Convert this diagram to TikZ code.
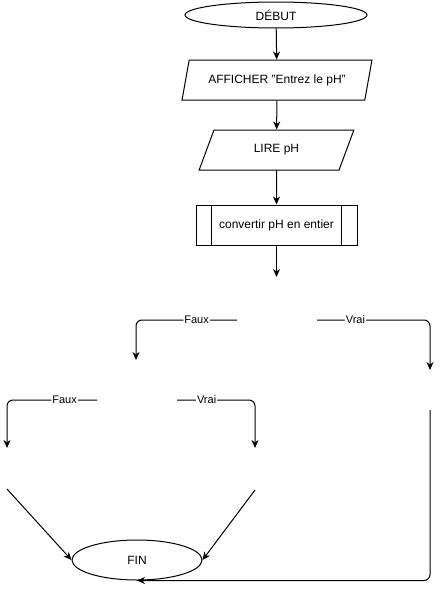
\documentclass[tikz,border=0pt]{standalone}
\usepackage{fontspec}
\setmainfont{Liberation Sans}
\usetikzlibrary{
  shapes.geometric,
  positioning,
  arrows.meta
}
\tikzset{
  >={Stealth[length=8pt,width=7pt,inset=2.5pt]},
  every node/.style={font=\fontsize{12}{14}\selectfont},
  terminal/.style={draw,ellipse,inner sep=0pt},
  io/.style={
    draw,trapezium,trapezium left angle=63.4,trapezium right angle=116.6,
    trapezium stretches=true,minimum height=40pt,inner sep=0pt
  },
  subproc/.style={draw,rectangle,minimum width=161pt,minimum height=40pt},
  lien/.style={->,line width=1pt,rounded corners=6pt},
  etiq/.style={fill=white,inner sep=1pt,font=\fontsize{11}{13}\selectfont}
}

\begin{document}
\begin{tikzpicture}[x=1pt,y=-1pt,line width=1pt]
\useasboundingbox (0,0) rectangle (440,589);
\node[terminal,minimum width=182pt,minimum height=26pt] (debut) at (276,15) {DÉBUT};
\node[io,minimum width=190pt] (affiche) at (277,80) {AFFICHER "Entrez le pH"};
\node[io,minimum width=155pt] (lire) at (276.5,150) {LIRE pH};
\node[subproc] (conv) at (276.5,225) {convertir pH en entier};
\draw ([xshift=16pt]conv.north west) -- ([xshift=16pt]conv.south west);
\draw ([xshift=-16pt]conv.north east) -- ([xshift=-16pt]conv.south east);
\node[terminal,minimum width=130pt,minimum height=40pt] (fin) at (137,560) {FIN};

\coordinate (bas) at (276.5,277);
\coordinate (fauxA) at (237,320);
\coordinate (fauxAbout) at (136,360);
\coordinate (vraiA) at (317,320);
\coordinate (vraiAbout) at (430,370);
\coordinate (fauxB) at (97,400);
\coordinate (fauxBbout) at (7,448);
\coordinate (vraiB) at (177,400);
\coordinate (vraiBbout) at (255,448);
\coordinate (versfinA) at (7,489);
\coordinate (versfinB) at (255,490);
\coordinate (versfinC) at (430,410);

\draw[lien] (debut) -- (affiche);
\draw[lien] (affiche) -- (lire);
\draw[lien] (lire) -- (conv);
\draw[lien] (conv) -- (bas);
\draw[lien] (fauxA) -| node[etiq,pos=0.2] {Faux} (fauxAbout);
\draw[lien] (vraiA) -| node[etiq,pos=0.17] {Vrai} (vraiAbout);
\draw[lien] (fauxB) -| node[etiq,pos=0.18] {Faux} (fauxBbout);
\draw[lien] (vraiB) -| node[etiq,pos=0.19] {Vrai} (vraiBbout);
\draw[lien] (versfinA) -- (fin.west);
\draw[lien] (versfinB) -- (fin.east);
\draw[lien] (versfinC) |- (fin.south);
\end{tikzpicture}
\end{document}
